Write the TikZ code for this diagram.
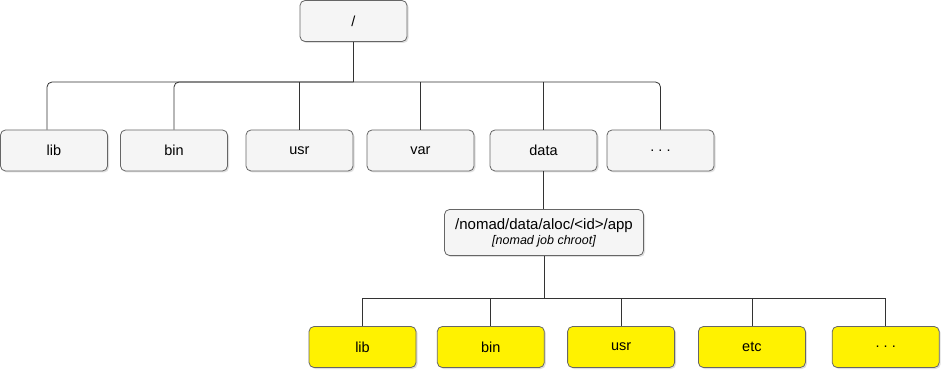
\documentclass[tikz,border=0pt]{standalone}
\usepackage{fontspec}
\setmainfont{Liberation Sans}
\usepackage{xcolor}
\usepackage{tikz}
\usetikzlibrary{positioning,shadows}

\definecolor{boxgray}{HTML}{F5F5F5}
\definecolor{boxline}{HTML}{666666}
\definecolor{wire}{HTML}{333333}

\begin{document}
\begin{tikzpicture}[
    x=1pt, y=1pt,
    dir/.style={draw=boxline, fill=boxgray, rounded corners=5pt, line width=0.8pt,
                minimum width=107pt, minimum height=41pt, inner sep=0pt, align=center,
                font=\fontsize{14.5}{17}\selectfont,
                drop shadow={shadow xshift=1.5pt, shadow yshift=-1.5pt, opacity=0.25}},
    appdir/.style={dir, fill=yellow},
    wire/.style={draw=wire, line width=0.8pt}
]
    \useasboundingbox (0,0) rectangle (944,372);

    % top level
    \node[dir] (root) at (353.5,351) {/};
    \node[dir] (lib) at (54,221.5) {lib};
    \node[dir, right=12.2pt of lib]  (bin)  {bin};
    \node[dir, right=17.7pt of bin]  (usr)  {usr};
    \node[dir, right=13.2pt of usr]  (var)  {var};
    \node[dir, right=15.2pt of var]  (data) {data};
    \node[dir, right=9.2pt of data]  (more) {.\ .\ .};

    % job chroot
    \node[dir, minimum width=199pt, minimum height=46pt] (app) at (544,139.5)
        {\fontsize{15}{17}\selectfont/nomad/data/aloc/<id>/app\\[-2pt]{\fontsize{12.5}{14}\selectfont\itshape [nomad job chroot]}};
    \node[appdir] (alib) at (362.5,25) {lib};
    \node[appdir, right=20.5pt of alib] (abin)  {bin};
    \node[appdir, right=22.5pt of abin] (ausr)  {usr};
    \node[appdir, right=23pt of ausr]   (aetc)  {etc};
    \node[appdir, right=26pt of aetc]   (amore) {.\ .\ .};

    \coordinate (bus) at (353.5,290);
    \coordinate (abus) at (544,74);

    \draw[wire] (root.south) -- (bus);
    \draw[wire, rounded corners=5pt] ([xshift=-7pt]lib.north) |- (more.north |- bus) -- (more.north);
    \draw[wire, rounded corners=5pt] (bin.north) |- (bus);
    \draw[wire] (usr.north) -- (usr.north |- bus);
    \draw[wire] (var.north) -- (var.north |- bus);
    \draw[wire] (data.north) -- (data.north |- bus);

    \draw[wire] (data.south) -- (data.south |- app.north);
    \draw[wire] (app.south) -- (abus);
    \draw[wire] (alib.north) |- (amore.north |- abus) -- (amore.north);
    \draw[wire] (abin.north) -- (abin.north |- abus);
    \draw[wire] (ausr.north) -- (ausr.north |- abus);
    \draw[wire] (aetc.north) -- (aetc.north |- abus);
\end{tikzpicture}
\end{document}
